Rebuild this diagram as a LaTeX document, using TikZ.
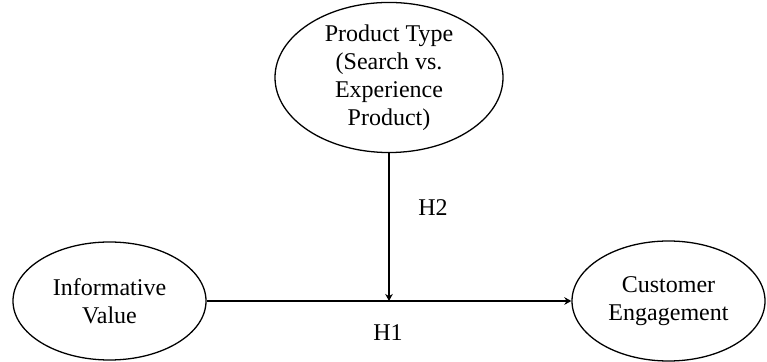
\documentclass[tikz,border=0pt]{standalone}
\usepackage{fontspec}
\setmainfont{Liberation Serif}
\newfontfamily\serifrm{Liberation Serif}
\usetikzlibrary{shapes,arrows,positioning}
\usetikzlibrary{arrows.meta}
\usetikzlibrary{shapes.geometric,calc}

\begin{document}
\begin{tikzpicture}[line width=1.1pt,
    construct/.style={draw,ellipse,inner sep=0pt,align=center,
      font=\serifrm\fontsize{20.5}{24}\selectfont},
    hyp/.style={font=\serifrm\fontsize{20.5}{24}\selectfont},
    >={Stealth[length=6pt,width=6.5pt]}
  ]
  \useasboundingbox (0,0) rectangle (23.01,10.86);

  % the constructs
  \node[construct,minimum width=6.84cm,minimum height=4.05cm] (ptype) at (11.67,8.535)
    {Product Type\\(Search vs.\\Experience\\Product)};
  \node[construct,minimum width=5.79cm,minimum height=3.54cm] (info) at (3.285,1.83)
    {Informative\\Value};
  \node[construct,minimum width=5.79cm,minimum height=3.6cm] (engage) at (20.055,1.83)
    {Customer\\Engagement};

  % the hypotheses
  \node[hyp] (h2) at (12.99,4.62) {H2};
  \node[hyp] (h1) at (11.64,0.87) {H1};

  % the paths
  \coordinate (meet) at (ptype.south |- info.east);
  \draw[->] (info.east) -- (engage.west);
  \draw[->] (ptype.south) -- (meet);
\end{tikzpicture}
\end{document}
